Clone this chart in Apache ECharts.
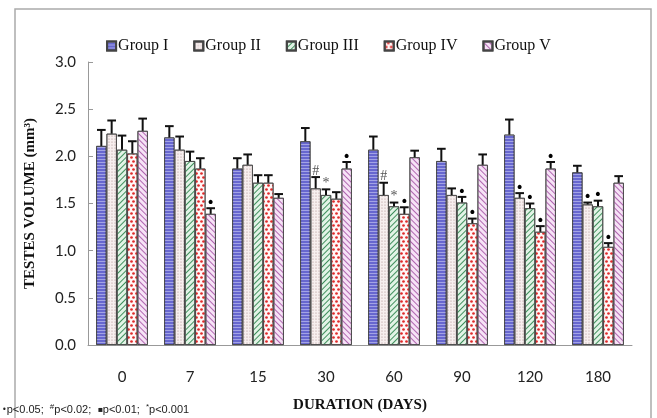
<!DOCTYPE html>
<html>
<head>
<meta charset="utf-8">
<script src="https://cdn.jsdelivr.net/npm/echarts@6/dist/echarts.min.js"></script>
<style>html,body{margin:0;padding:0;background:#fff;}#c{width:657px;height:418px;}</style>
</head>
<body>
<div id="c"></div>
<script>
const categories = ['0', '7', '15', '30', '60', '90', '120', '180'];
const groupNames = ['Group I', 'Group II', 'Group III', 'Group IV', 'Group V'];
const groupI   = [2.11, 2.20, 1.87, 2.16, 2.07, 1.95, 2.23, 1.83];
const groupII  = [2.24, 2.07, 1.91, 1.66, 1.59, 1.59, 1.56, 1.49];
const groupIII = [2.07, 1.95, 1.72, 1.59, 1.47, 1.51, 1.45, 1.47];
const groupIV  = [2.03, 1.87, 1.72, 1.55, 1.39, 1.29, 1.20, 1.04];
const groupV   = [2.27, 1.39, 1.56, 1.87, 1.99, 1.91, 1.87, 1.72];
const errI   = [2.28, 2.32, 1.98, 2.30, 2.21, 2.08, 2.39, 1.90];
const errII  = [2.38, 2.21, 2.02, 1.78, 1.72, 1.66, 1.61, 1.51];
const errIII = [2.22, 2.05, 1.80, 1.65, 1.51, 1.57, 1.50, 1.53];
const errIV  = [2.16, 1.98, 1.80, 1.62, 1.46, 1.34, 1.26, 1.08];
const errV   = [2.40, 1.45, 1.60, 1.94, 2.06, 2.02, 1.94, 1.79];
const markI   = ['', '', '', '', '', '', '', ''];
const markII  = ['', '', '', '#', '#', '', '•', '•'];
const markIII = ['', '', '', '*', '*', '•', '•', '•'];
const markIV  = ['', '', '', '', '•', '•', '•', '•'];
const markV   = ['', '•', '', '•', '', '', '•', ''];
const yTicks = [0, 0.5, 1.0, 1.5, 2.0, 2.5, 3.0];

const values = [groupI, groupII, groupIII, groupIV, groupV];
const errs = [errI, errII, errIII, errIV, errV];
const marks = [markI, markII, markIII, markIV, markV];

const styles = [
  { color: '#6767cf', decal: { symbol: 'rect', color: 'rgba(235,235,255,0.45)', dashArrayX: [1, 0], dashArrayY: [1, 1.5], rotation: 0 } },
  { color: '#f7efef', decal: { symbol: 'circle', color: '#a88a8a', symbolSize: 0.6, dashArrayX: [2, 1], dashArrayY: [2, 1], rotation: 0 } },
  { color: '#e2f3e6', decal: { symbol: 'rect', color: '#3f8f5c', dashArrayX: [1, 0], dashArrayY: [1, 2.2], rotation: -Math.PI / 4 } },
  { color: '#fff6f6', decal: { symbol: 'circle', color: '#e02a2a', symbolSize: 0.9, dashArrayX: [[2.5, 1.5], [0, 2, 2.5, 0]], dashArrayY: [2.5, 1], rotation: 0 } },
  { color: '#f6e2f6', decal: { symbol: 'rect', color: '#b066b0', dashArrayX: [1, 0], dashArrayY: [1, 2.2], rotation: Math.PI / 4 } }
];

const GAP = 0.24;
const series = [];
groupNames.forEach((name, i) => {
  series.push({
    name: name,
    type: 'bar',
    barGap: 0,
    barCategoryGap: (GAP * 100) + '%',
    data: values[i],
    itemStyle: { color: styles[i].color, decal: styles[i].decal, borderColor: '#444', borderWidth: 0.8 },
    emphasis: { disabled: true },
    z: 2
  });
});
groupNames.forEach((name, i) => {
  series.push({
    name: 'err' + i,
    type: 'custom',
    data: categories.map((c, k) => [k, values[i][k], errs[i][k], marks[i][k]]),
    encode: { x: 0, y: [1, 2] },
    z: 5,
    silent: true,
    renderItem: function (params, api) {
      const k = api.value(0);
      const band = api.size([1, 0])[0];
      const bw = band * (1 - GAP) / 5;
      const base = api.coord([k, api.value(1)]);
      const top = api.coord([k, api.value(2)]);
      const cx = base[0] + (i - 2) * bw;
      const cap = bw * 0.42;
      const mark = marks[i][k];
      const children = [
        { type: 'line', shape: { x1: cx, y1: base[1], x2: cx, y2: top[1] }, style: { stroke: '#111', lineWidth: 2 } },
        { type: 'line', shape: { x1: cx - cap, y1: top[1], x2: cx + cap, y2: top[1] }, style: { stroke: '#111', lineWidth: 2 } }
      ];
      if (mark) {
        const isDot = mark === '•';
        children.push({
          type: 'text',
          style: {
            text: mark, x: cx, y: top[1] + (isDot ? 2 : 1),
            align: 'center', verticalAlign: 'bottom',
            fontFamily: isDot ? 'DejaVu Sans' : 'Liberation Serif',
            fontSize: isDot ? 14 : 14,
            fill: isDot ? '#000' : '#555'
          }
        });
      }
      return { type: 'group', children: children };
    }
  });
});

const chart = echarts.init(document.getElementById('c'), null, { renderer: 'canvas' });
chart.setOption({
  animation: false,
  backgroundColor: '#fff',
  aria: { enabled: false },
  legend: {
    data: groupNames,
    top: 33,
    left: 'center',
    itemWidth: 9,
    itemHeight: 9,
    itemGap: 25,
    icon: 'rect',
    textStyle: { fontFamily: 'Liberation Serif', fontSize: 16, color: '#111', padding: [0, 0, 0, -3] }
  },
  grid: { left: 88, right: 25, top: 62, bottom: 68 },
  xAxis: {
    type: 'category',
    data: categories,
    axisLine: { lineStyle: { color: '#999', width: 1 } },
    axisTick: { show: false },
    axisLabel: { color: '#222', fontFamily: 'Lato', fontSize: 15, margin: 25 },
    name: 'DURATION (DAYS)',
    nameLocation: 'middle',
    nameGap: 53,
    nameTextStyle: { fontFamily: 'Liberation Serif', fontWeight: 'bold', fontSize: 15, color: '#111' }
  },
  yAxis: {
    type: 'value',
    min: 0, max: 3, interval: 0.5,
    axisLine: { show: true, lineStyle: { color: '#999' } },
    axisTick: { show: true, inside: true, length: 5, lineStyle: { color: '#999' } },
    splitLine: { show: false },
    axisLabel: { color: '#222', fontFamily: 'Lato', fontSize: 15, margin: 12, formatter: v => v.toFixed(1) },
    name: 'TESTES VOLUME (mm³)',
    nameLocation: 'middle',
    nameGap: 50,
    nameTextStyle: { fontFamily: 'Liberation Serif', fontWeight: 'bold', fontSize: 15, color: '#111' }
  },
  graphic: [
    { type: 'rect', shape: { x: 15, y: 9, width: 636, height: 430 }, style: { fill: 'none', stroke: '#aaa', lineWidth: 1.5 }, silent: true, z: -1 },
    {
      type: 'text', left: 2, top: 403, silent: true,
      style: {
        text: '{a|•}p<0.05;  {s|#}p<0.02;  {a|▪}p<0.01;  {s|*}p<0.001',
        fontFamily: 'Liberation Sans', fontSize: 11, fill: '#222',
        rich: {
          a: { fontSize: 8, fontFamily: 'DejaVu Sans', fill: '#222' },
          s: { fontSize: 8, verticalAlign: 'top', padding: [0, 0, 5, 0], fill: '#222' }
        }
      }
    }
  ],
  series: series
});
</script>
</body>
</html>
